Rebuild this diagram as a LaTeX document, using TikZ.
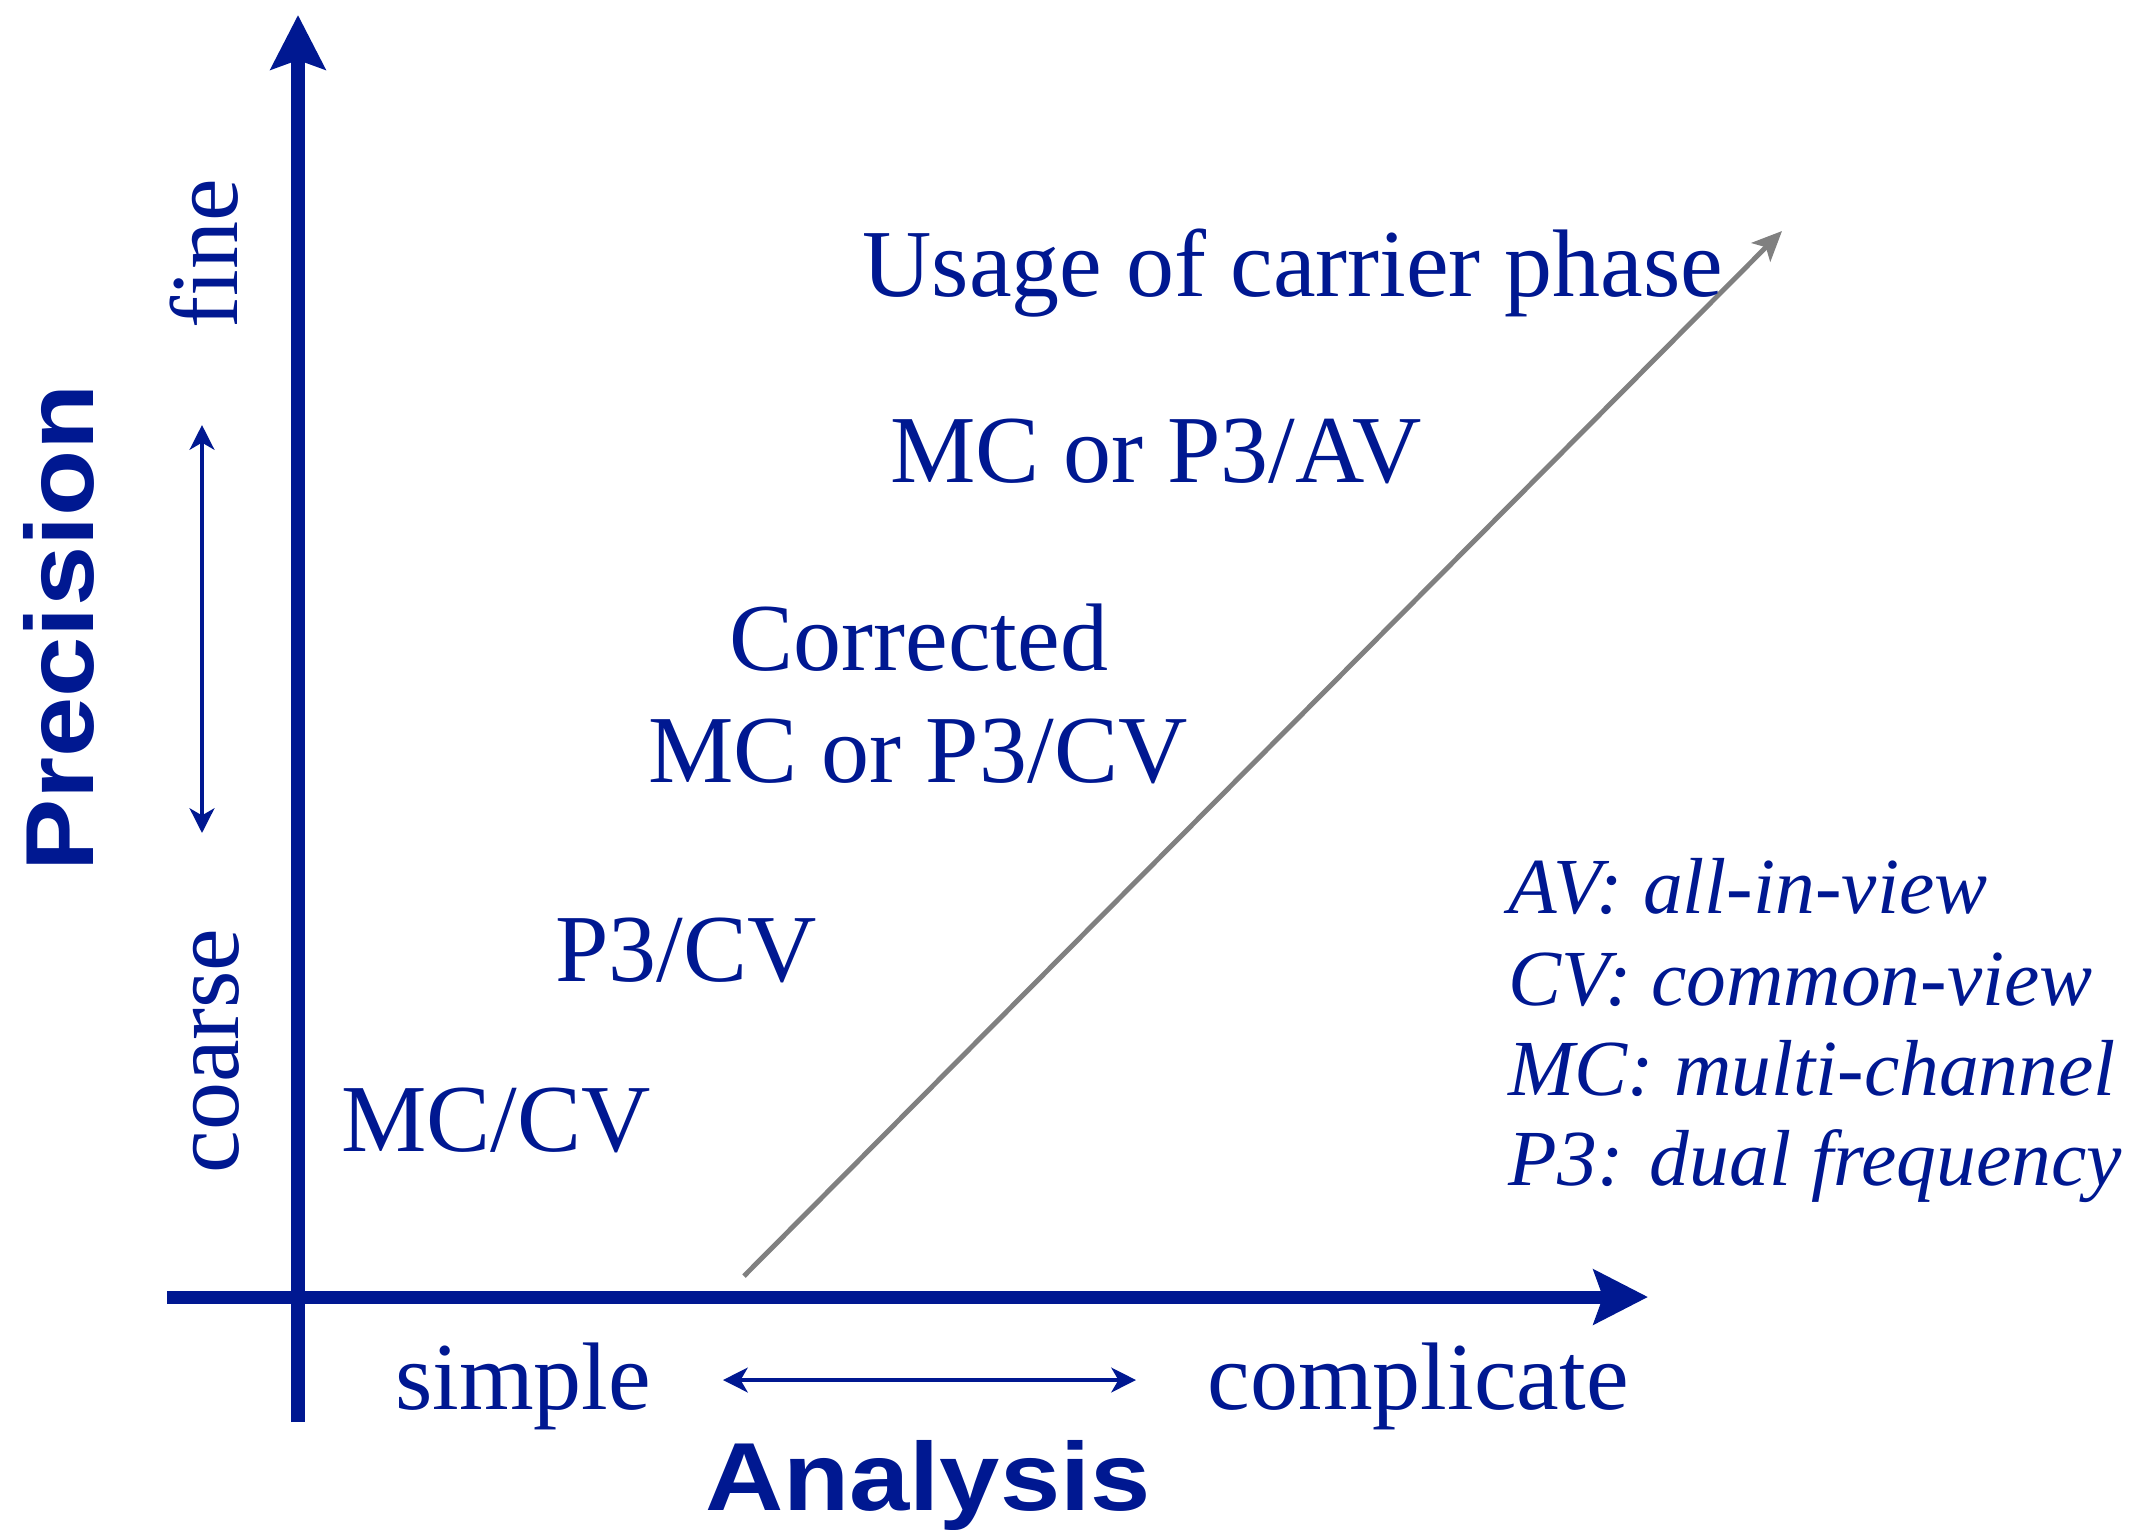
\documentclass[tikz,border=0pt]{standalone}
\usepackage{fontspec}
\setmainfont{Liberation Serif}
\newfontfamily\boldsans[FakeStretch=1.12]{Liberation Sans Bold}
\usetikzlibrary{arrows.meta}
\definecolor{navy}{RGB}{0,24,145}
\definecolor{diag}{RGB}{128,128,128}
\tikzset{
  mainlbl/.style={text=navy, font=\fontsize{27.3pt}{32pt}\selectfont, inner sep=0pt, anchor=base},
  axislbl/.style={text=navy, font=\boldsans\fontsize{27.5pt}{32pt}\selectfont, inner sep=0pt, anchor=base},
  legendlbl/.style={text=navy, font=\itshape\fontsize{22.6pt}{26pt}\selectfont, inner sep=0pt, anchor=base west},
  axisline/.style={draw=navy, line width=3.7pt, -{Stealth[length=15.4pt,width=15.4pt,inset=2.6pt]}},
  rangearrow/.style={draw=navy, line width=1.4pt, {Stealth[length=7pt,width=7pt,inset=2pt]}-{Stealth[length=7pt,width=7pt,inset=2pt]}},
  trendarrow/.style={draw=diag, line width=1.4pt, -{Stealth[length=8.5pt,width=7.5pt,inset=2pt]}}
}
\begin{document}
\begin{tikzpicture}[x=0.01cm,y=-0.01cm]
\useasboundingbox (0,0) rectangle (2130,1529);
% axes
\coordinate (vbot) at (298,1422);
\coordinate (vtop) at (298,15);
\coordinate (hleft) at (167,1297);
\coordinate (hright) at (1648,1297);
\draw[axisline] (vbot) -- (vtop);
\draw[axisline] (hleft) -- (hright);
% range arrows
\coordinate (pfine) at (202,425);
\coordinate (pcoarse) at (202,833);
\draw[rangearrow] (pcoarse) -- (pfine);
\coordinate (asimple) at (723,1380);
\coordinate (acompl) at (1136,1380);
\draw[rangearrow] (asimple) -- (acompl);
% trend arrow
\coordinate (tstart) at (744,1276);
\coordinate (tend) at (1782,231);
\draw[trendarrow] (tstart) -- (tend);
% axis titles
\node[axislbl, rotate=90] (precision) at (93,628) {Precision};
\node[axislbl] (analysis) at (928,1510) {Analysis};
\node[mainlbl, rotate=90] (fine) at (237,254) {fine};
\node[mainlbl, rotate=90] (coarse) at (238,1051) {coarse};
\node[mainlbl] (simple) at (523,1409) {simple};
\node[mainlbl] (complicate) at (1418,1409) {complicate};
% methods
\node[mainlbl] (usage) at (1293,296) {Usage of carrier phase};
\node[mainlbl] (mcav) at (1156,482) {MC or P3/AV};
\node[mainlbl] (corr) at (919,670) {Corrected};
\node[mainlbl] (mccv) at (918,782) {MC or P3/CV};
\node[mainlbl] (p3cv) at (686,981) {P3/CV};
\node[mainlbl] (mcslcv) at (496,1151) {MC/CV};
% legend
\node[legendlbl] (lav) at (1508,913) {AV: all-in-view};
\node[legendlbl] (lcv) at (1508,1005) {CV: common-view};
\node[legendlbl] (lmc) at (1508,1095) {MC: multi-channel};
\node[legendlbl] (lp3) at (1508,1185) {P3: dual frequency};
\end{tikzpicture}
\end{document}
